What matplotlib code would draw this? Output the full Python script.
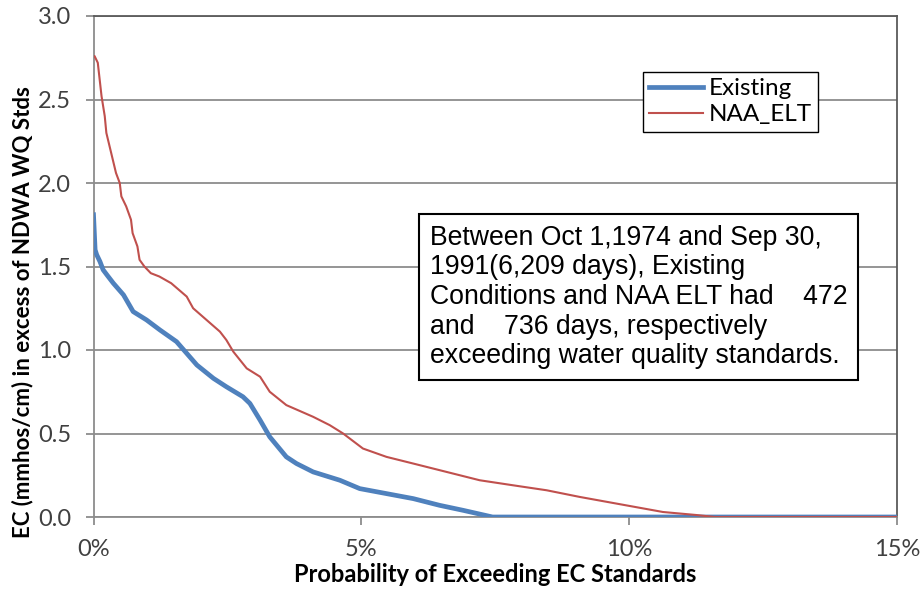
import matplotlib
matplotlib.use('Agg')
import matplotlib.pyplot as plt
from matplotlib.ticker import FuncFormatter, MultipleLocator

# exceedance probability (%) vs EC above standard
existing_x = [0.0, 0.03, 0.06, 0.12, 0.18, 0.25, 0.37, 0.56, 0.74, 0.99, 1.24, 1.55, 1.74,
              1.93, 2.24, 2.48, 2.79, 2.92, 3.11, 3.29, 3.60, 3.79, 4.10, 4.60, 4.97, 5.47,
              5.97, 6.46, 6.90, 7.45, 15.0]
existing_y = [1.81, 1.60, 1.57, 1.53, 1.48, 1.45, 1.40, 1.33, 1.23, 1.18, 1.12, 1.05, 0.98,
              0.91, 0.83, 0.78, 0.72, 0.68, 0.58, 0.48, 0.36, 0.32, 0.27, 0.22, 0.17, 0.14,
              0.11, 0.07, 0.04, 0.0, 0.0]

naa_x = [0.0, 0.02, 0.08, 0.15, 0.21, 0.24, 0.33, 0.42, 0.49, 0.52, 0.61, 0.70, 0.73, 0.82,
         0.86, 0.95, 1.07, 1.23, 1.45, 1.74, 1.86, 2.11, 2.36, 2.48, 2.61, 2.86, 3.11, 3.29,
         3.60, 4.10, 4.41, 4.66, 5.03, 5.47, 5.97, 6.59, 7.21, 7.83, 8.46, 9.08, 10.01,
         10.63, 11.25, 11.60, 15.0]
naa_y = [2.76, 2.76, 2.72, 2.52, 2.40, 2.30, 2.18, 2.06, 2.00, 1.92, 1.86, 1.78, 1.70, 1.62,
         1.54, 1.50, 1.46, 1.44, 1.40, 1.32, 1.25, 1.18, 1.11, 1.06, 0.99, 0.89, 0.84, 0.75,
         0.67, 0.60, 0.55, 0.50, 0.41, 0.36, 0.32, 0.27, 0.22, 0.19, 0.16, 0.12, 0.066,
         0.03, 0.012, 0.0, 0.0]

note = ('Between Oct 1,1974 and Sep 30,\n'
        '1991(6,209 days), Existing\n'
        'Conditions and NAA ELT had    472\n'
        'and    736 days, respectively\n'
        'exceeding water quality standards.')

plt.rcParams['font.family'] = ['Lato', 'DejaVu Sans']

fig = plt.figure(figsize=(9.22, 5.92), dpi=100)
ax = fig.add_axes([93.5 / 922, 1 - 517 / 592, (897 - 93.5) / 922, (517 - 16) / 592])

ax.plot(existing_x, existing_y, color='#4F81BD', lw=3.4, label='Existing', zorder=3)
ax.plot(naa_x, naa_y, color='#C0504D', lw=1.5, label='NAA_ELT', zorder=4)

ax.set_xlim(0, 15)
ax.set_ylim(0, 3.0)
ax.xaxis.set_major_locator(MultipleLocator(5))
ax.yaxis.set_major_locator(MultipleLocator(0.5))
ax.xaxis.set_major_formatter(FuncFormatter(lambda v, p: f'{v:.0f}%'))
ax.yaxis.set_major_formatter(FuncFormatter(lambda v, p: f'{v:.1f}'))
ax.grid(axis='y', color='#8c8c8c', lw=1.3)
ax.set_axisbelow(True)

for side in ['left', 'bottom']:
    ax.spines[side].set_color('#8c8c8c')
    ax.spines[side].set_linewidth(1.3)
for side in ['top', 'right']:
    ax.spines[side].set_color('#5a5a5a')
    ax.spines[side].set_linewidth(1.3)

ax.tick_params(axis='both', colors='#8c8c8c', labelcolor='#404040', labelsize=17,
               length=6, width=1.3)
ax.tick_params(axis='y', pad=10)
ax.tick_params(axis='x', pad=10)

ax.set_xlabel('Probability of Exceeding EC Standards', fontsize=17, fontweight='bold',
              labelpad=2)
ax.set_ylabel('EC (mmhos/cm) in excess of NDWA WQ Stds', fontsize=16, fontweight='bold')
# label sits lower than the axis centre in the original
ax.yaxis.set_label_coords((33 - 93.5) / 803.5, (517 - 312) / 501)

leg = ax.legend(loc='upper left', bbox_to_anchor=(643 / 922, 1 - 72 / 592),
                bbox_transform=fig.transFigure, fontsize=17.5, frameon=True, fancybox=False,
                borderpad=0.25, labelspacing=0.22, handlelength=2.2, handletextpad=0.25,
                borderaxespad=0)
leg.get_frame().set_edgecolor('black')
leg.get_frame().set_linewidth(1.0)
leg.get_frame().set_alpha(1)

ax.text(430 / 922, 1 - 297 / 592, note, transform=fig.transFigure, ha='left', va='center',
        fontsize=19.2, family='Liberation Sans', linespacing=1.18, zorder=5,
        bbox=dict(boxstyle='square,pad=0.4', facecolor='white', edgecolor='black', lw=1.5))

fig.savefig('out.png', dpi=100)
